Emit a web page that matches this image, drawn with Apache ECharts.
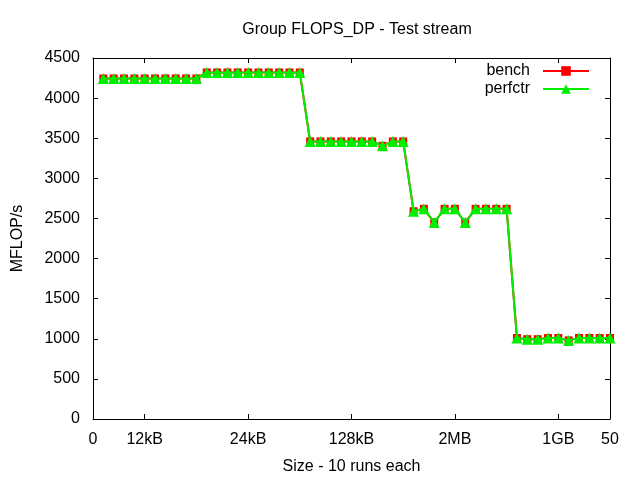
<!DOCTYPE html>
<html>
<head>
<meta charset="utf-8">
<script src="https://cdn.jsdelivr.net/npm/echarts@6/dist/echarts.min.js"></script>
<style>html,body{margin:0;padding:0;background:#fff}#c{width:640px;height:480px}</style>
</head>
<body>
<div id="c"></div>
<script>
var xValues = [1,2,3,4,5,6,7,8,9,10,11,12,13,14,15,16,17,18,19,20,21,22,23,24,25,26,27,28,29,30,31,32,33,34,35,36,37,38,39,40,41,42,43,44,45,46,47,48,49,50];
var benchValues = [4245,4245,4245,4245,4245,4245,4245,4245,4245,4245,
  4320,4320,4320,4320,4320,4320,4320,4320,4320,4320,
  3460,3460,3460,3460,3460,3460,3460,3405,3460,3460,
  2590,2620,2450,2620,2620,2450,2620,2620,2620,2620,
  1010,995,995,1010,1010,980,1010,1010,1010,1010];
var perfctrValues = [4245,4245,4245,4245,4245,4245,4245,4245,4245,4245,
  4320,4320,4320,4320,4320,4320,4320,4320,4320,4320,
  3460,3460,3460,3460,3460,3460,3460,3405,3460,3460,
  2590,2620,2450,2620,2620,2450,2620,2620,2620,2620,
  1010,995,995,1010,1010,980,1010,1010,1010,1010];
var xTickValues = [0,5,15,25,35,45,50];
var xTickLabels = ['0','12kB','24kB','128kB','2MB','1GB','50'];
var seriesNames = ['bench','perfctr'];
var titleText = 'Group FLOPS_DP - Test stream';
var xName = 'Size - 10 runs each';
var yName = 'MFLOP/s';

function pairs(vals){ return vals.map(function(v,i){ return [xValues[i], v]; }); }
var font = 'Liberation Sans, Arial, sans-serif';
var FS = 16;
var chart = echarts.init(document.getElementById('c'), null, {renderer:'canvas'});
function ticks(extra){
  var t = {show:true, inside:true, length:5, lineStyle:{color:'#000', width:1}};
  if (extra) for (var k in extra) t[k] = extra[k];
  return t;
}
var axisLineStyle = function(){ return {show:true, onZero:false, lineStyle:{color:'#000', width:1}}; };
chart.setOption({
  animation:false,
  backgroundColor:'#fff',
  title:{text:titleText, left:352, textAlign:'center', top:17,
    textStyle:{fontFamily:font, fontSize:FS, fontWeight:'normal', color:'#000'}},
  legend:{orient:'vertical', right:50, top:62, align:'right', itemWidth:46, itemHeight:12, itemGap:0,
    padding:0,
    textStyle:{fontFamily:font, fontSize:FS, color:'#000', padding:[0,8,0,0], lineHeight:18},
    data:seriesNames},
  grid:{left:93, right:30, top:58, bottom:61, show:false},
  xAxis:[{type:'value', min:0, max:50, position:'bottom',
    name:xName, nameLocation:'middle', nameGap:40,
    nameTextStyle:{fontFamily:font, fontSize:FS, color:'#000'},
    axisLine:axisLineStyle(),
    axisTick:ticks({customValues:xTickValues}),
    axisLabel:{customValues:xTickValues, margin:13, fontFamily:font, fontSize:FS, color:'#000',
      formatter:function(v){ var i=xTickValues.indexOf(v); return i>=0?xTickLabels[i]:''; }},
    splitLine:{show:false}},
   {type:'value', min:0, max:50, position:'top',
    axisLine:axisLineStyle(),
    axisTick:ticks({customValues:xTickValues}),
    axisLabel:{show:false}, splitLine:{show:false}}],
  yAxis:[{type:'value', min:0, max:4500, interval:500, position:'left',
    name:yName, nameLocation:'middle', nameGap:67, nameRotate:90,
    nameTextStyle:{fontFamily:font, fontSize:FS, color:'#000'},
    axisLine:axisLineStyle(),
    axisTick:ticks(),
    axisLabel:{margin:13, fontFamily:font, fontSize:FS, color:'#000', formatter:function(v){return String(v);}},
    splitLine:{show:false}},
   {type:'value', min:0, max:4500, interval:500, position:'right',
    axisLine:axisLineStyle(),
    axisTick:ticks(), axisLabel:{show:false}, splitLine:{show:false}}],
  series:[
    {name:seriesNames[0], type:'line', data:pairs(benchValues), xAxisIndex:0, yAxisIndex:0,
     symbol:'rect', symbolSize:8, showAllSymbol:true, color:'#ff0000',
     lineStyle:{width:2, color:'#ff0000'}, itemStyle:{color:'#ff0000'}, z:2},
    {name:seriesNames[1], type:'line', data:pairs(perfctrValues), xAxisIndex:0, yAxisIndex:0,
     symbol:'triangle', symbolSize:11, showAllSymbol:true, color:'#00ee00',
     lineStyle:{width:2, color:'#00ee00'}, itemStyle:{color:'#00ee00'}, z:3}
  ]
});
</script>
</body>
</html>
